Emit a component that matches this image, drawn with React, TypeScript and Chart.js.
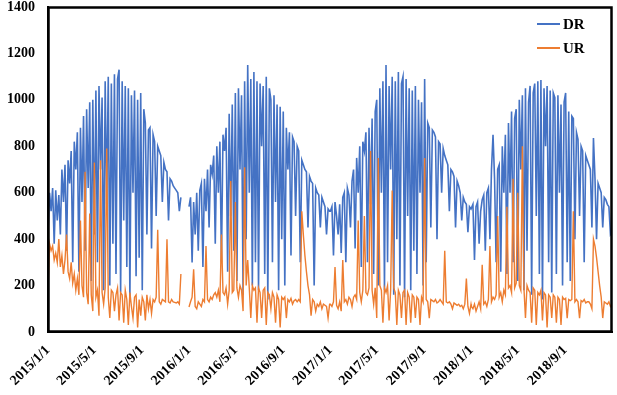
import React, { useEffect, useRef } from "react";
import { Chart, registerables } from "chart.js";

Chart.register(...registerables);

// Samples every 4 days, starting on Jan 1 of each year (null = missing data)
const DAY_STEP = 4;
const YEARS = [2015, 2016, 2017, 2018];

const DR_2015 = [
  430, 600, 520, 620, 380, 610, 480, 590,
  420, 700, 560, 720, 350, 740, 640,
  780, 300, 820, 700, 860, 260, 880, 560,
  930, 350, 960, 620, 990, 220, 1000,
  420, 1040, 300, 1060, 700, 1010, 180, 1080,
  550, 1100, 200, 1070, 380, 1110, 250,
  1090, 1130, 170, 1080, 480, 1060, 280, 1050,
  150, 1020, 600, 1040, 240, 1000, 320, 1030,
  180, 960, 900, 420, 870, 880, 360,
  850, 820, 500, 800, 780, 760, 560, 730,
  700, 690, 480, 660, 650, 630, 620,
  610, 600, 520, 580, null, null, null, null, null,
];
const UR_2015 = [
  180, 380, 350, 370, 310, 340, 300, 400,
  280, 330, 250, 310, 420, 260, 230,
  300, 210, 250, 180, 230, 160, 480, 200,
  150, 690, 170, 120, 510, 160, 90,
  730, 150, 180, 70, 740, 170, 120, 190,
  790, 150, 60, 180, 170, 90, 160,
  190, 50, 170, 160, 40, 180, 140, 30,
  170, 110, 60, 150, 160, 20, 140, 70,
  150, 130, 50, 160, 100, 140, 80,
  140, 130, 150, 440, 130, 120, 140, 135,
  130, 400, 130, 125, 140, 130, 128,
  125, 130, 120, 250, null, null, null, null, null,
];

const DR_2016 = [
  540, 580, 300, 560, 420, 600, 350, 610,
  640, 280, 660, 520, 700, 450, 720,
  680, 760, 380, 800, 600, 820, 300, 850,
  780, 880, 260, 940, 500, 980, 350,
  1030, 220, 1050, 700, 1020, 160, 1080, 400,
  1150, 600, 1090, 200, 1120, 300, 1080,
  180, 1070, 800, 1060, 250, 1100, 140, 1050,
  1000, 300, 1020, 560, 980, 180, 970, 400,
  950, 200, 880, 700, 860, 330, 840,
  820, 500, 800, 780, 300, 740, 720, 700,
  690, 450, 670, 650, 640, 200, 620,
  600, 590, 450, 580, 560, 540, 420, 530, 520,
];
const UR_2016 = [
  108, 130, 150, 270, 110, 100, 130, 120,
  110, 140, 130, 370, 140, 130, 150,
  140, 160, 170, 150, 180, 130, 420, 170,
  160, 190, 120, 180, 650, 170, 180,
  560, 190, 150, 200, 180, 90, 710, 200,
  310, 190, 60, 200, 180, 190, 40,
  190, 170, 60, 180, 190, 30, 170, 160,
  100, 170, 150, 40, 160, 140, 20, 150,
  140, 150, 60, 140, 130, 145, 120,
  135, 140, 130, 140, 130, 520, 420, 330,
  260, 200, 160, 70, 140, 130, 90,
  120, 110, 130, 100, 120, 115, 110, 60, 120,
];

const DR_2017 = [
  520, 540, 330, 560, 500, 420, 550, 340,
  580, 600, 300, 620, 590, 450, 650,
  700, 360, 750, 600, 800, 280, 820, 780,
  860, 300, 880, 550, 920, 250, 950,
  1000, 200, 1050, 600, 1080, 180, 1150, 300,
  1060, 700, 1100, 160, 1080, 400, 1120,
  200, 1070, 1100, 150, 1090, 500, 1050, 180,
  1040, 350, 1060, 250, 1000, 600, 990, 200,
  1090, 300, 900, 880, 450, 870, 860,
  840, 400, 820, 810, 600, 790, 760, 740,
  720, 520, 700, 690, 670, 450, 650,
  630, 600, 480, 580, 560, 550, 430, 540, 530,
];
const UR_2017 = [
  120, 110, 130, 280, 115, 100, 130, 90,
  310, 130, 140, 120, 150, 140, 110,
  150, 160, 140, 480, 170, 130, 180, 500,
  170, 160, 190, 780, 180, 120, 190,
  60, 750, 200, 180, 40, 190, 170, 200,
  50, 180, 610, 190, 170, 30, 180,
  160, 60, 170, 180, 30, 170, 150, 40,
  160, 150, 60, 150, 140, 30, 150, 130,
  750, 140, 130, 60, 140, 135, 130,
  140, 125, 130, 140, 130, 120, 350, 130,
  125, 130, 120, 100, 125, 120, 115,
  120, 110, 115, 100, 120, 230, 110, 80, 120,
];

const DR_2018 = [
  530, 550, 310, 540, 560, 380, 520, 570,
  590, 350, 600, 620, 400, 700, 850,
  660, 300, 700, 720, 260, 800, 600, 850,
  250, 900, 600, 950, 300, 920, 960,
  220, 1000, 700, 1020, 180, 1050, 350, 990,
  1060, 160, 1030, 1070, 500, 1080, 250,
  1086, 140, 1050, 800, 1060, 300, 1040, 170,
  1030, 1010, 250, 1020, 600, 980, 200, 990,
  1030, 300, 950, 220, 930, 920, 400,
  860, 830, 500, 800, 780, 300, 760, 740,
  720, 700, 450, 836, 660, 400, 640,
  620, 600, 450, 580, 570, 550, 540, 420, 430,
];
const UR_2018 = [
  110, 100, 120, 90, 110, 130, 100, 290,
  120, 130, 110, 140, 370, 130, 150,
  140, 160, 500, 150, 170, 130, 180, 160,
  540, 190, 200, 170, 660, 190, 210,
  600, 200, 180, 800, 190, 60, 200, 180,
  170, 40, 190, 180, 30, 170, 160,
  180, 50, 170, 160, 20, 160, 150, 60,
  160, 150, 40, 150, 140, 30, 150, 140,
  145, 60, 140, 135, 140, 520, 130,
  140, 130, 60, 135, 130, 140, 125, 130,
  130, 120, 100, 400, 370, 320, 260,
  200, 150, 60, 130, 125, 120, 130, 110, 120,
];

const DR_BY_YEAR = [DR_2015, DR_2016, DR_2017, DR_2018];
const UR_BY_YEAR = [UR_2015, UR_2016, UR_2017, UR_2018];

const X_TICK_LABELS = [
  "2015/1/1", "2015/5/1", "2015/9/1",
  "2016/1/1", "2016/5/1", "2016/9/1",
  "2017/1/1", "2017/5/1", "2017/9/1",
  "2018/1/1", "2018/5/1", "2018/9/1",
];
const LAST_DATE = "2018/12/31";
const SERIES_NAMES = ["DR", "UR"];
const SERIES_COLORS = ["#4472C4", "#ED7D31"];

const ORIGIN = Date.UTC(2015, 0, 1);
const dayOf = (label: string) => {
  const [y, m, d] = label.split("/").map(Number);
  return Math.round((Date.UTC(y, m - 1, d) - ORIGIN) / 86400000);
};

const buildPoints = (byYear: (number | null)[][]) => {
  const pts: { x: number; y: number | null }[] = [];
  YEARS.forEach((yr, k) => {
    const start = dayOf(`${yr}/1/1`);
    byYear[k].forEach((v, i) => pts.push({ x: start + i * DAY_STEP, y: v }));
  });
  return pts;
};

const FONT_FAMILY = '"Times New Roman", "Liberation Serif", serif';
const FRAME_COLOR = "#000000";

// Frame around the plot area plus an in-plot legend (top right)
const frameAndLegend = {
  id: "frameAndLegend",
  afterDraw(chart: any) {
    const ctx: CanvasRenderingContext2D = chart.ctx;
    const { left, top, right, bottom } = chart.chartArea;
    ctx.save();
    ctx.strokeStyle = FRAME_COLOR;
    ctx.lineWidth = 2.5;
    ctx.strokeRect(left + 0.5, top + 0.5, right - left - 1, bottom - top - 1);
    ctx.font = `bold 15px ${FONT_FAMILY}`;
    ctx.textBaseline = "middle";
    ctx.textAlign = "left";
    SERIES_NAMES.forEach((name, i) => {
      const y = top + 17 + i * 24;
      ctx.strokeStyle = SERIES_COLORS[i];
      ctx.lineWidth = 2;
      ctx.beginPath();
      ctx.moveTo(right - 75, y);
      ctx.lineTo(right - 52, y);
      ctx.stroke();
      ctx.fillStyle = "#000";
      ctx.fillText(name, right - 49, y + 1);
    });
    ctx.restore();
  },
};

export default function App() {
  const ref = useRef<HTMLCanvasElement>(null);
  useEffect(() => {
    document.body.style.margin = "0";
    const tickDays = X_TICK_LABELS.map(dayOf);
    const chart = new Chart(ref.current!, {
      type: "line",
      data: {
        datasets: [
          {
            label: SERIES_NAMES[0],
            data: buildPoints(DR_BY_YEAR) as any,
            borderColor: SERIES_COLORS[0],
            borderWidth: 1.6,
            pointRadius: 0,
            tension: 0,
            spanGaps: false,
            order: 2,
          },
          {
            label: SERIES_NAMES[1],
            data: buildPoints(UR_BY_YEAR) as any,
            borderColor: SERIES_COLORS[1],
            borderWidth: 1.4,
            pointRadius: 0,
            tension: 0,
            spanGaps: false,
            order: 1,
          },
        ],
      },
      options: {
        animation: false,
        responsive: true,
        maintainAspectRatio: false,
        layout: { padding: { top: 0, right: 5, left: 0, bottom: 0 } },
        plugins: { legend: { display: false }, tooltip: { enabled: false } },
        scales: {
          x: {
            type: "linear",
            min: 0,
            max: dayOf(LAST_DATE),
            grid: { display: false, drawTicks: false },
            border: { display: true, color: FRAME_COLOR, width: 2 },
            afterBuildTicks: (axis: any) => {
              axis.ticks = tickDays.map((v) => ({ value: v }));
            },
            afterFit: (scale: any) => {
              scale.height = 63;
              scale.paddingLeft = 0;
              scale.paddingRight = 0;
            },
            ticks: {
              autoSkip: false,
              maxRotation: 45,
              minRotation: 45,
              padding: 10,
              color: "#000",
              font: { family: FONT_FAMILY, size: 14, weight: "bold" },
              callback: (_v: any, i: number) => X_TICK_LABELS[i],
            },
          },
          y: {
            min: 0,
            max: 1400,
            grid: { display: false, drawTicks: false },
            border: { display: true, color: FRAME_COLOR, width: 2 },
            afterFit: (scale: any) => {
              scale.width = 48;
              scale.paddingTop = 7;
              scale.paddingBottom = 0;
            },
            ticks: {
              stepSize: 200,
              padding: 13,
              color: "#000",
              font: { family: FONT_FAMILY, size: 14, weight: "bold" },
              callback: (v: any) => String(v),
            },
          },
        },
      },
      plugins: [frameAndLegend],
    });
    return () => chart.destroy();
  }, []);
  return (
    <div style={{ width: 617, height: 395, position: "relative" }}>
      <canvas ref={ref} />
    </div>
  );
}
